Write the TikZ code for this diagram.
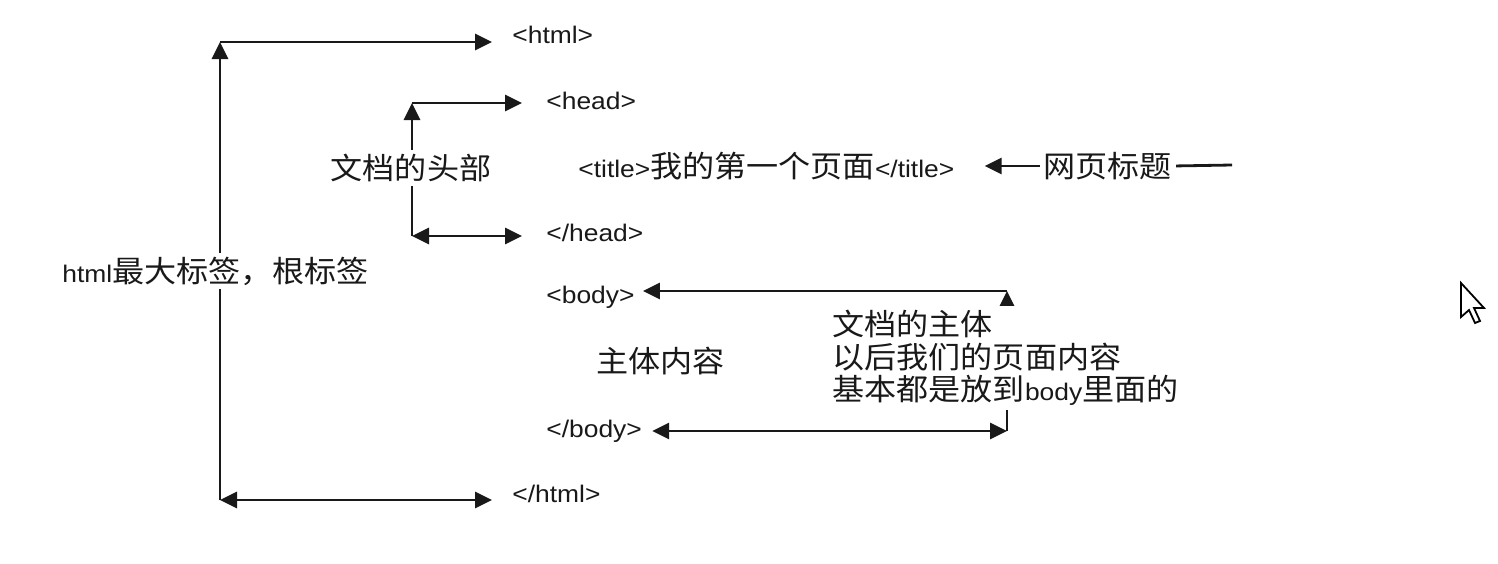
\documentclass[tikz,border=0pt]{standalone}
\usepackage{fontspec}
\setmainfont{Liberation Sans}
\newfontfamily\lat[FakeStretch=1.1]{Liberation Sans}
\newfontfamily\cjk[FakeStretch=1.07]{Noto Sans CJK SC}
\newcommand\latf{\lat\fontsize{12}{13}\selectfont}
\newcommand\zhf{\cjk\fontsize{15}{16.25}\selectfont}
\usetikzlibrary{arrows.meta,backgrounds}
\begin{document}
\begin{tikzpicture}[x=0.5pt,y=-0.5pt,
  conn/.style={line width=1.4pt, draw=black!90},
  tip/.style={-{Triangle[length=8.5pt,width=8pt]}},
  tipboth/.style={{Triangle[length=8.5pt,width=8pt]}-{Triangle[length=8.5pt,width=8pt]}},
  tag/.style={inner sep=0pt, anchor=west, font=\latf, text=black!90},
  zh/.style={inner sep=0pt, font=\zhf, text=black!90},
  mask/.style={fill=white, inner sep=2pt}]
\useasboundingbox (0,0) rectangle (1498,563);

% tags
\node[tag] (html)  at (512,35)  {<html>};
\node[tag] (head)  at (546,101) {<head>};
\node[tag] (title) at (578,166) {<title>{\zhf 我的第一个页面}</title>};
\node[tag] (ehead) at (546,233) {</head>};
\node[tag] (body)  at (546,297) {<body>};
\node[tag] (ebody) at (546,431) {</body>};
\node[tag] (ehtml) at (512,494) {</html>};

% labels
\node[zh, mask] (headlbl) at (411,168) {文档的头部};
\node[zh, mask, anchor=west] (root) at (58,271) {{\latf html}最大标签，根标签};
\node[zh, anchor=west] (content) at (596,361) {主体内容};
\node[zh, mask, anchor=west, align=left] (bodytxt) at (828,358)
  {文档的主体\\以后我们的页面内容\\基本都是放到{\latf body}里面的};
\node[zh, anchor=west] (wy) at (1043,166) {网页标题};

% corners
\coordinate (hT) at (220,42);
\coordinate (hB) at (220,500);
\coordinate (dT) at (412,103);
\coordinate (dB) at (412,236);
\coordinate (bT) at (1007,291);
\coordinate (bB) at (1007,431);
\coordinate (wyEnd) at (1232,165);

\begin{scope}[on background layer]
  \fill[white] (0,0) rectangle (1498,563);
  % html bracket
  \draw[conn,tip] (hB) -- (hT);
  \draw[conn,tip,shorten >=10pt] (hT) -- (hT -| html.west);
  \draw[conn,tipboth,shorten >=10pt] (hB) -- (hB -| ehtml.west);
  % head bracket
  \draw[conn,tip] (dB) -- (dT);
  \draw[conn,tip,shorten >=12pt] (dT) -- (dT -| head.west);
  \draw[conn,tipboth,shorten >=12pt] (dB) -- (dB -| ehead.west);
  % title
  \draw[conn,tip,shorten <=1.5pt,shorten >=15pt] (wy.west) -- (title.east);
  \draw[conn,shorten <=2pt] (wy.east) -- (wyEnd);
  % body bracket
  \draw[conn,tip] (bB) -- (bT);
  \draw[conn,tip,shorten >=4pt] (bT) -- (bT -| body.east);
  \draw[conn,tipboth,shorten <=5pt] (bB -| ebody.east) -- (bB);
\end{scope}

% mouse pointer
\draw[fill=white, line width=0.9pt, line join=miter] (1461,283) -- ++(0,34) -- ++(8,-7) -- ++(6,13) -- ++(5,-2) -- ++(-6,-13) -- ++(10,0) -- cycle;
\end{tikzpicture}
\end{document}
